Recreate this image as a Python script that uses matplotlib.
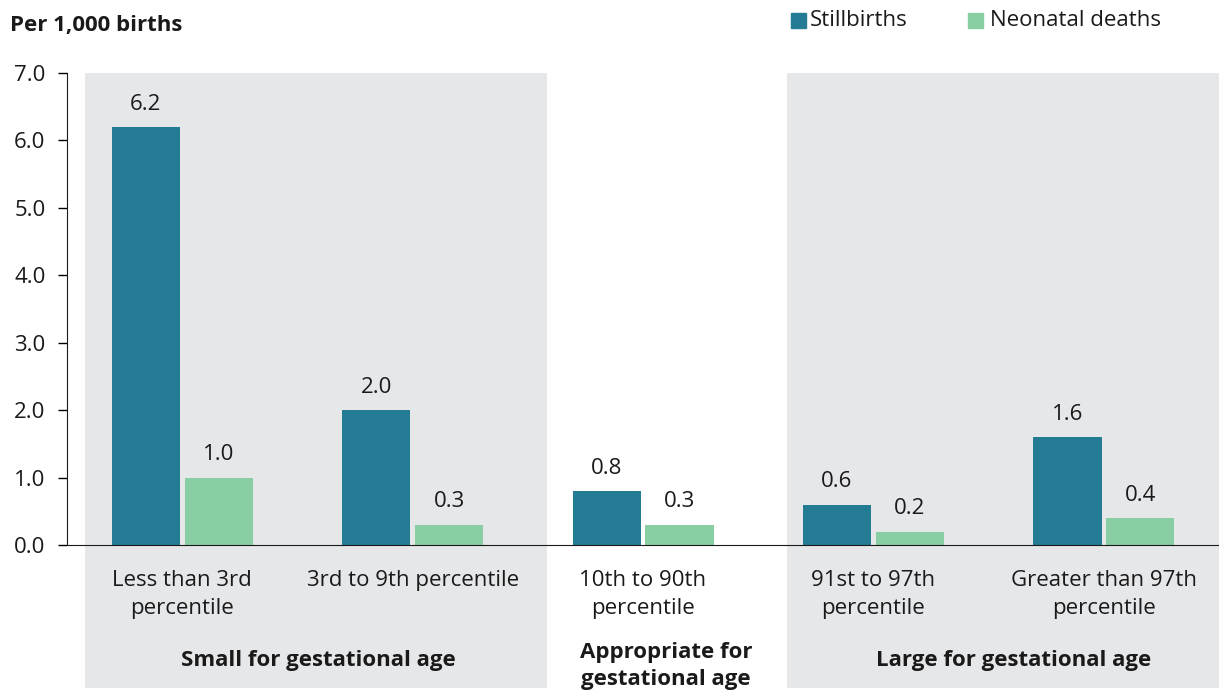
import matplotlib.pyplot as plt
from matplotlib.patches import Rectangle
import numpy as np

categories = ['Less than 3rd\npercentile', '3rd to 9th percentile', '10th to 90th\npercentile',
              '91st to 97th\npercentile', 'Greater than 97th\npercentile']
stillbirths = [6.2, 2.0, 0.8, 0.6, 1.6]
neonatal = [1.0, 0.3, 0.3, 0.2, 0.4]
groups = ['Small for gestational age', 'Appropriate for\ngestational age', 'Large for gestational age']

col_still = '#247c94'
col_neo = '#88cea2'
col_grey = '#e6e7e9'
txt = '#1a1a1a'
fs = 16

plt.rcParams['font.family'] = ['Open Sans', 'DejaVu Sans']

fig = plt.figure(figsize=(12.19, 6.9), dpi=100)
ax = fig.add_axes([0.055, 0.2101, 0.945, 0.6841])

x = np.arange(len(categories))
w = 0.296
b1 = ax.bar(x - 0.158, stillbirths, w, color=col_still, zorder=3)
b2 = ax.bar(x + 0.158, neonatal, w, color=col_neo, zorder=3)

for bars, vals in ((b1, stillbirths), (b2, neonatal)):
    for r, v in zip(bars, vals):
        ax.annotate('%.1f' % v, (r.get_x() + r.get_width() / 2, v), xytext=(0, 16.5),
                    textcoords='offset points', ha='center', va='center', fontsize=fs, color=txt)

# grey group panels, running down past the axis to the figure bottom
trans = ax.get_xaxis_transform()
for x0, x1 in ((-0.42, 1.585), (2.626, 4.6)):
    ax.add_patch(Rectangle((x0, -0.303), x1 - x0, 1.303, transform=trans, color=col_grey,
                           zorder=0, clip_on=False, lw=0))

ax.set_xlim(-0.5, 4.5)
ax.set_ylim(0, 7)
ax.set_yticks(np.arange(0, 7.1, 1.0))
ax.set_yticklabels(['%.1f' % t for t in np.arange(0, 7.1, 1.0)], fontsize=fs, color=txt)
ax.tick_params(axis='y', length=6.5, width=1, pad=9, direction='out')
ax.set_xticks(x)
ax.set_xticklabels(categories, fontsize=fs, color=txt, linespacing=1.42)
ax.tick_params(axis='x', length=0, pad=18)

for s in ('top', 'right'):
    ax.spines[s].set_visible(False)
ax.spines['left'].set_color(txt)
ax.spines['bottom'].set_color(txt)
ax.set_facecolor('none')
ax.spines['bottom'].set_zorder(4)

# group labels
ax.text(0.59, -0.2436, groups[0], transform=trans, ha='center', va='center',
        fontsize=fs, fontweight='bold', color=txt)
ax.text(2.10, -0.256, groups[1], transform=trans, ha='center', va='center',
        fontsize=fs, fontweight='bold', linespacing=1.42, color=txt)
ax.text(3.607, -0.2436, groups[2], transform=trans, ha='center', va='center',
        fontsize=fs, fontweight='bold', color=txt)

fig.text(10 / 1219, 1 - 26 / 690, 'Per 1,000 births', fontsize=fs, fontweight='bold', va='center', color=txt)

# legend
fig.patches.append(Rectangle((791 / 1219, 1 - 28 / 690), 15 / 1219, 15 / 690,
                             transform=fig.transFigure, color=col_still))
fig.text(810 / 1219, 1 - 20 / 690, 'Stillbirths', fontsize=fs, va='center', color=txt)
fig.patches.append(Rectangle((968 / 1219, 1 - 28 / 690), 15 / 1219, 15 / 690,
                             transform=fig.transFigure, color=col_neo))
fig.text(990 / 1219, 1 - 20 / 690, 'Neonatal deaths', fontsize=fs, va='center', color=txt)

fig.savefig('out.png', dpi=100)
